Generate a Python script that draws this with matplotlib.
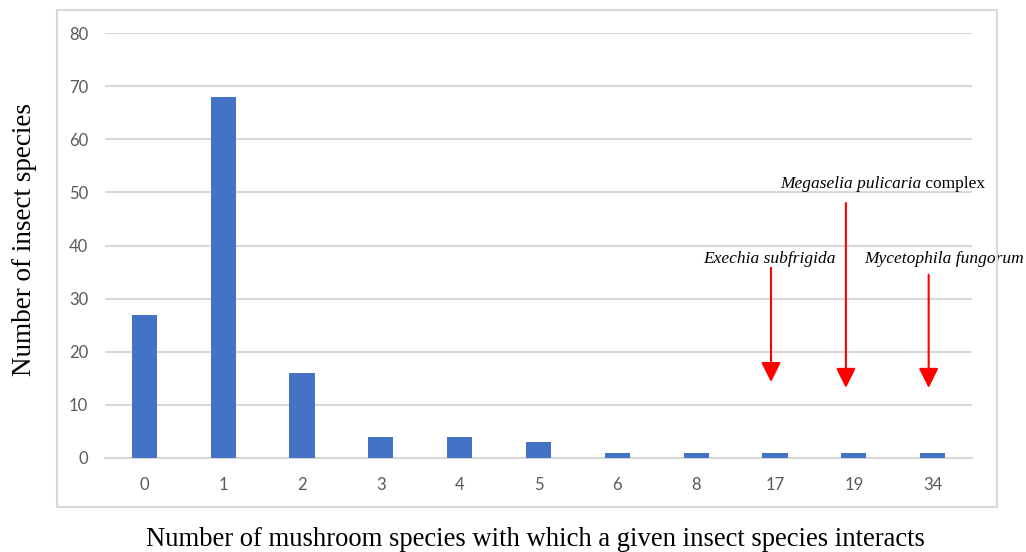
import matplotlib
matplotlib.use("Agg")
import matplotlib.pyplot as plt
from matplotlib.patches import Rectangle

# number of mushroom species an insect interacts with -> number of insect species
categories = ["0", "1", "2", "3", "4", "5", "6", "8", "17", "19", "34"]
counts = [27, 68, 16, 4, 4, 3, 1, 1, 1, 1, 1]

# highlighted species: (category, label x, label y, arrow top, arrow tip, x shift)
highlights = [
    ("17", "Exechia subfrigida", 7.93, 37.5, 35.8, 14.3, -0.05),
    ("19", "Megaselia pulicaria", 9.36, 51.6, 48.0, 13.2, -0.10),
    ("34", "Mycetophila fungorum", 10.15, 37.5, 34.5, 13.2, -0.05),
]

serif = "Liberation Serif"
grey = "#d9d9d9"
bar_color = "#4472C4"

fig = plt.figure(figsize=(10.26, 5.52), dpi=100)
W, H = 1026, 552
ax = fig.add_axes([105 / W, 1 - 458 / H, (972 - 105) / W, (458 - 33) / H])

# chart frame
fig.patches.append(Rectangle((57 / W, 1 - 507 / H), (997 - 57) / W, (507 - 10) / H,
                             transform=fig.transFigure, fill=False,
                             edgecolor=grey, linewidth=1.5, zorder=0))

x = range(len(categories))
ax.bar(x, counts, width=0.32, color=bar_color, zorder=3)

ax.set_xlim(-0.5, len(categories) - 0.5)
ax.set_ylim(0, 80)
ax.set_yticks(range(0, 81, 10))
ax.set_xticks(list(x))
ax.set_xticklabels(categories)
ax.yaxis.grid(True, color=grey, linewidth=1.5)
ax.set_axisbelow(True)
for s in ["top", "right", "left"]:
    ax.spines[s].set_visible(False)
ax.spines["bottom"].set_color(grey)
ax.spines["bottom"].set_linewidth(1.5)
ax.spines["bottom"].set_zorder(2)
ax.tick_params(axis="both", length=0, labelcolor="#595959", labelsize=12)
ax.tick_params(axis="y", pad=12)
ax.tick_params(axis="x", pad=14)
for lab in ax.get_xticklabels() + ax.get_yticklabels():
    lab.set_fontfamily("Lato")

for cat, name, tx, ty, y0, y1, dx in highlights:
    xi = categories.index(cat) + dx
    ax.annotate("", xy=(xi, y1), xytext=(xi, y0),
                arrowprops=dict(arrowstyle="-|>,head_length=0.6,head_width=0.3",
                                color="red", lw=1.5, mutation_scale=20,
                                shrinkA=0, shrinkB=0), zorder=4)
    if cat == "19":
        t = ax.text(tx - 0.40, ty, name, ha="center", va="center",
                    fontfamily=serif, fontstyle="italic", fontsize=12.5)
        ax.annotate(" complex", xy=(1, 0), xycoords=t, va="bottom", ha="left",
                    fontfamily=serif, fontsize=12.5, annotation_clip=False)
    else:
        ax.text(tx, ty, name, ha="center", va="center", fontfamily=serif,
                fontstyle="italic", fontsize=12.5, clip_on=False)

fig.text(25 / W, 1 - 240 / H, "Number of insect species", rotation=90,
         ha="center", va="center", fontfamily=serif, fontsize=19.5)
fig.text(535 / W, 1 - 539 / H,
         "Number of mushroom species with which a given insect species interacts",
         ha="center", va="center", fontfamily=serif, fontsize=19.2)

fig.savefig("out.png", dpi=100)
